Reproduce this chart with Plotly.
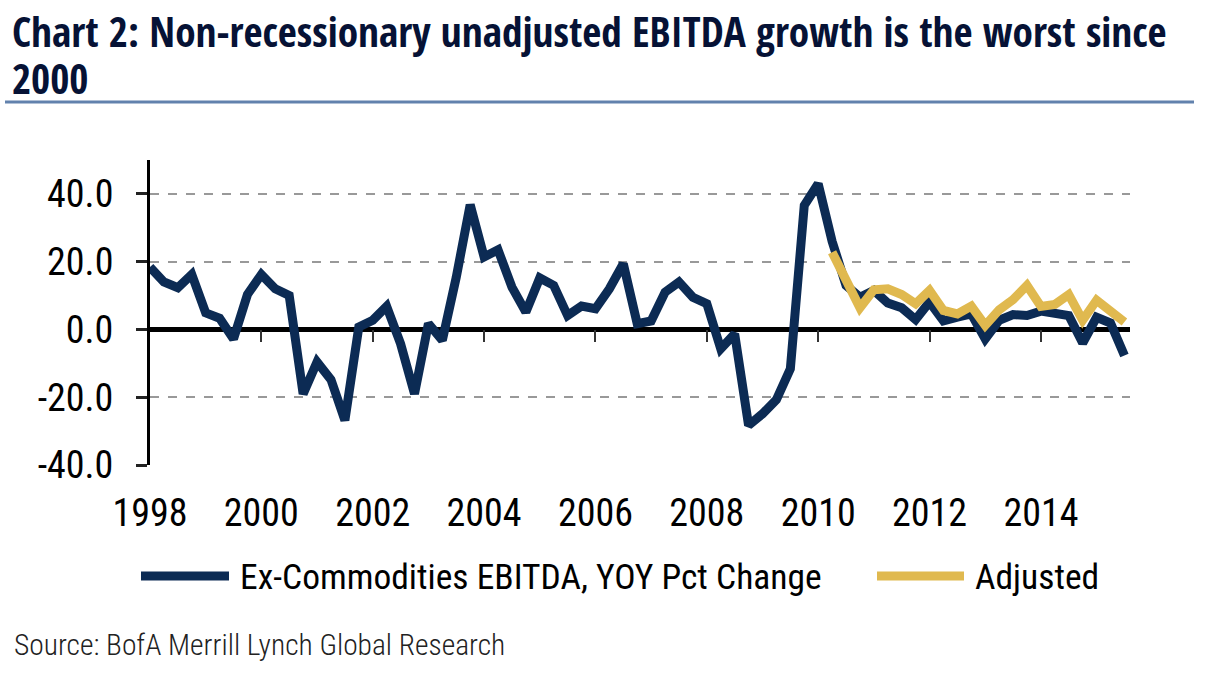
import plotly.graph_objects as go

# Quarterly data, 1998Q1 .. 2015Q3
start_year = 1998
ebitda = [18.4, 14.0, 12.3, 16.2, 4.9, 3.3, -2.8, 10.3,
          16.2, 12.0, 10.0, -19.0, -9.6, -14.8, -26.8, 0.7,
          2.7, 6.8, -4.2, -19.0, 1.7, -3.2, 15.4, 36.8,
          21.4, 23.5, 12.5, 5.1, 15.2, 13.0, 4.1, 6.9,
          6.1, 12.0, 19.4, 1.7, 2.5, 11.0, 14.0, 9.5,
          7.6, -5.7, -1.3, -28.3, -24.9, -20.7, -11.6, 36.6,
          43.0, 26.0, 13.0, 9.5, 11.5, 7.8, 6.4, 2.9,
          8.1, 2.5, 3.6, 4.6, -2.8, 2.7, 4.4, 4.1,
          5.4, 4.8, 4.1, -4.0, 3.6, 1.9, -7.7]
adjusted_start_index = 49
adjusted = [22.8, 14.5, 6.4, 11.7, 12.0, 10.3, 7.6, 11.5,
            5.6, 4.6, 6.9, 1.2, 5.8, 8.8, 13.0, 6.8,
            7.4, 10.3, 2.7, 8.6, 5.1, 2.2]
year_ticks = [1998, 2000, 2002, 2004, 2006, 2008, 2010, 2012, 2014]
y_ticks = [-40, -20, 0, 20, 40]
y_tick_labels = ["-40.0", "-20.0", "0.0", "20.0", "40.0"]
series_names = ["Ex-Commodities EBITDA, YOY Pct Change", "Adjusted"]

title_lines = ["Chart 2: Non-recessionary unadjusted EBITDA growth is the worst since", "2000"]
source_text = "Source: BofA Merrill Lynch Global Research"

NAVY = "#0c2b54"
GOLD = "#e0b94f"
COND = "Roboto Condensed, Liberation Sans, sans-serif"
TITLE_FONT = "Open Sans Condensed, Roboto Condensed, sans-serif"

x_main = [start_year + i / 4 for i in range(len(ebitda))]
x_adj = [start_year + (adjusted_start_index + i) / 4 for i in range(len(adjusted))]

fig = go.Figure()
fig.add_trace(go.Scatter(x=x_main, y=ebitda, mode="lines", name=series_names[0],
                         line=dict(color=NAVY, width=9), showlegend=False, hoverinfo="skip"))
fig.add_trace(go.Scatter(x=x_adj, y=adjusted, mode="lines", name=series_names[1],
                         line=dict(color=GOLD, width=9), showlegend=False, hoverinfo="skip"))

W, H = 1231, 677
L, R, T, B = 150, 1130, 160, 465
pw, ph = R - L, B - T


def px(xp):
    return (xp - L) / pw


def py(yp):
    return (B - yp) / ph


x_range = [1998, 2015.6]
fig.update_layout(
    width=W, height=H,
    margin=dict(l=L, r=W - R, t=T, b=H - B, pad=0),
    paper_bgcolor="white", plot_bgcolor="white",
    xaxis=dict(range=x_range, tickvals=year_ticks, ticktext=[str(t) for t in year_ticks],
               showgrid=False, zeroline=False, showline=False, ticks="",
               tickfont=dict(family=COND, size=38, color="black"),
               ticklabelstandoff=22),
    xaxis2=dict(range=x_range, overlaying="x", anchor="free", position=40 / 90,
                tickvals=year_ticks[1:], showticklabels=False, ticks="outside",
                ticklen=12, tickwidth=2, tickcolor="#333", showgrid=False,
                zeroline=False, showline=False, side="bottom"),
    yaxis=dict(range=[-40, 50], tickvals=y_ticks, ticktext=y_tick_labels,
               showgrid=True, gridcolor="#999999", griddash="dash", gridwidth=1.5,
               zeroline=True, zerolinecolor="black", zerolinewidth=5,
               showline=True, linecolor="black", linewidth=3,
               ticks="outside", ticklen=11, tickwidth=3, tickcolor="#222",
               tickfont=dict(family=COND, size=38, color="black"),
               ticklabelstandoff=15),
    showlegend=False,
)
# empty trace binding the tick-only axis drawn along the zero line
fig.add_trace(go.Scatter(x=[x_range[0]], y=[None], xaxis="x2", yaxis="y",
                         showlegend=False, hoverinfo="skip"))

title_font = dict(family=TITLE_FONT, size=41.3, color="#061235")
annotations = [
    dict(text="<b>" + title_lines[0] + "</b>", xref="paper", yref="paper",
         x=px(10), y=py(31), xanchor="left", yanchor="middle", showarrow=False, font=title_font),
    dict(text="<b>" + title_lines[1] + "</b>", xref="paper", yref="paper",
         x=px(10), y=py(78), xanchor="left", yanchor="middle", showarrow=False, font=title_font),
    dict(text=source_text, xref="paper", yref="paper", x=px(12), y=py(645),
         xanchor="left", yanchor="middle", showarrow=False,
         font=dict(family=COND, size=29.5, color="#222222", weight=300)),
    dict(text=series_names[0], xref="paper", yref="paper", x=px(238), y=py(577),
         xanchor="left", yanchor="middle", showarrow=False,
         font=dict(family=COND, size=35.5, color="black")),
    dict(text=series_names[1], xref="paper", yref="paper", x=px(973), y=py(577),
         xanchor="left", yanchor="middle", showarrow=False,
         font=dict(family=COND, size=35.5, color="black")),
]
shapes = [
    dict(type="line", xref="paper", yref="paper", x0=px(5), x1=px(1194), y0=py(102), y1=py(102),
         line=dict(color="#6282ad", width=3)),
    dict(type="line", xref="paper", yref="paper", x0=px(141), x1=px(229), y0=py(576), y1=py(576),
         line=dict(color=NAVY, width=9)),
    dict(type="line", xref="paper", yref="paper", x0=px(877), x1=px(964), y0=py(576), y1=py(576),
         line=dict(color=GOLD, width=9)),
]
fig.update_layout(annotations=annotations, shapes=shapes)

fig.write_html("out.html", config={"displayModeBar": False},
               post_script="document.body.style.margin='0';")
